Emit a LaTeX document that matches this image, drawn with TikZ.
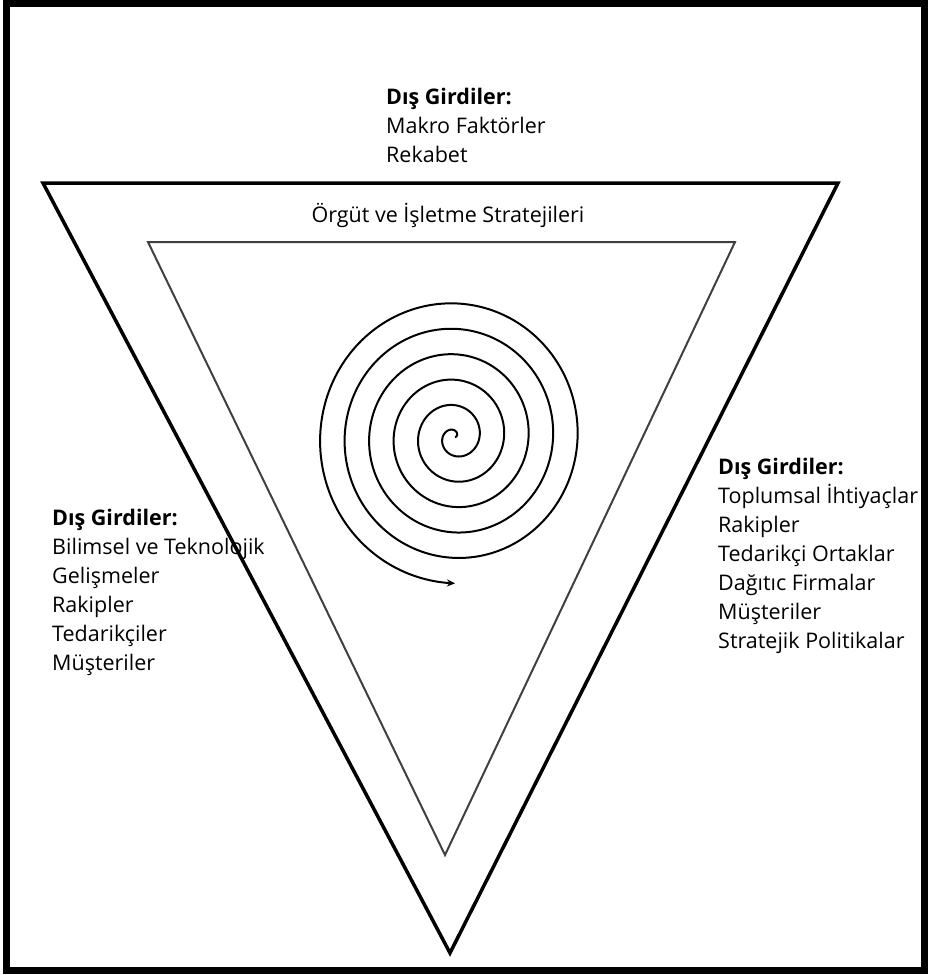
\documentclass[tikz,border=0pt]{standalone}
\usepackage{fontspec}
\setmainfont{Open Sans}
\usetikzlibrary{arrows.meta}
\begin{document}
\begin{tikzpicture}[x=1pt,y=-1pt,
  ln/.style={anchor=base west,font=\fontsize{21.5}{26}\selectfont,inner sep=0pt},
  hd/.style={ln,font=\fontsize{21.5}{26}\selectfont\bfseries},
  outertri/.style={draw=black,line width=3.5pt,line join=miter},
  innertri/.style={draw=black!75,line width=2pt,line join=miter},
  spiralline/.style={draw=black,line width=2pt,-{Stealth[length=8pt,width=7pt]}}]
\useasboundingbox (0,0) rectangle (930,975);
\draw[line width=7pt] (6,3.5) rectangle (924,970);
% triangles
\coordinate (OA) at (43,183);
\coordinate (OB) at (838,183);
\coordinate (OC) at (450,953);
\coordinate (IA) at (148,242);
\coordinate (IB) at (735,242);
\coordinate (IC) at (445,855);
\draw[outertri] (OA) -- (OB) -- (OC) -- cycle;
\draw[innertri] (IA) -- (IB) -- (IC) -- cycle;
% spiral
\draw[spiralline] plot[domain=0:2070,samples=600,variable=\t,smooth]
  ({455+1.0*(\t/2070)*141*cos(\t)},{437-1.038*(\t/2070)*141*sin(\t)});
% top texts
\node[hd] (t1) at (386,104) {Dış Girdiler:};
\node[ln] (t2) at (386,133) {Makro Faktörler};
\node[ln] (t3) at (386,162) {Rekabet};
\node[anchor=base,font=\fontsize{21.5}{26}\selectfont,inner sep=0pt] (strat) at (448,222) {Örgüt ve İşletme Stratejileri};
% left texts
\node[hd] (l1) at (52,525) {Dış Girdiler:};
\node[ln] (l2) at (52,554) {Bilimsel ve Teknolojik};
\node[ln] (l3) at (52,583) {Gelişmeler};
\node[ln] (l4) at (52,612) {Rakipler};
\node[ln] (l5) at (52,641) {Tedarikçiler};
\node[ln] (l6) at (52,670) {Müşteriler};
% right texts
\node[hd] (r1) at (718,474) {Dış Girdiler:};
\node[ln] (r2) at (718,503) {Toplumsal İhtiyaçlar};
\node[ln] (r3) at (718,532) {Rakipler};
\node[ln] (r4) at (718,561) {Tedarikçi Ortaklar};
\node[ln] (r5) at (718,590) {Dağıtıc Firmalar};
\node[ln] (r6) at (718,619) {Müşteriler};
\node[ln] (r7) at (718,648) {Stratejik Politikalar};
\end{tikzpicture}
\end{document}
